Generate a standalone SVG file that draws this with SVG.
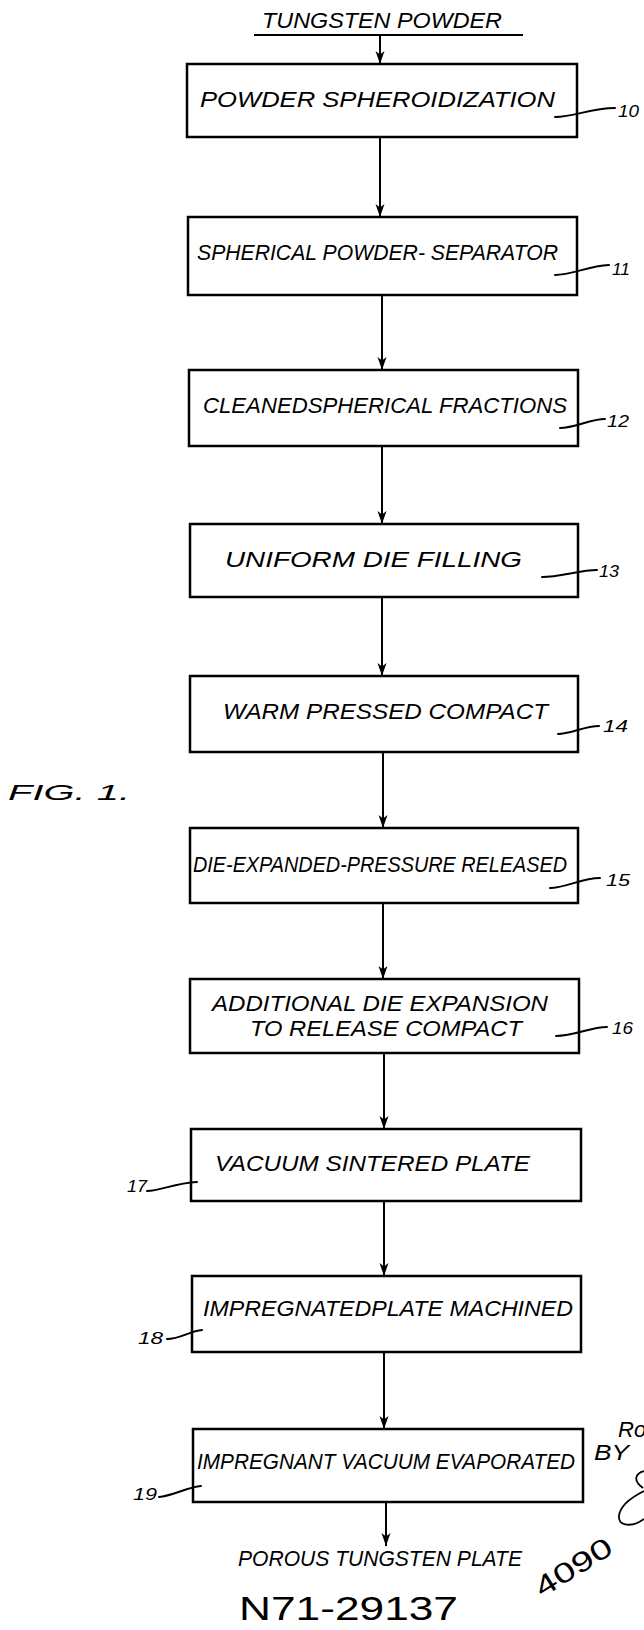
<svg xmlns="http://www.w3.org/2000/svg" width="644" height="1630" viewBox="0 0 644 1630">
<style>
.box{fill:#fff;stroke:#000;stroke-width:2.5}
.lbl{font-family:"Liberation Sans",Arial,sans-serif;font-style:italic;font-size:22px;fill:#000}
.ref{font-family:"Liberation Sans",Arial,sans-serif;font-style:italic;font-size:16px;fill:#000}
.hand{font-family:"Liberation Sans",Arial,sans-serif;fill:#000}
.lead{fill:none;stroke:#000;stroke-width:2;stroke-linecap:round}
.conn{fill:none;stroke:#000;stroke-width:2;marker-end:url(#ah)}
</style>
<defs>
<marker id="ah" markerUnits="userSpaceOnUse" viewBox="0 -5 14 10" refX="13" refY="0" markerWidth="14" markerHeight="10" orient="auto">
<path d="M0,-4.5 L13,0 L0,4.5 L3.5,0 Z" fill="#000"/>
</marker>
</defs>
<rect x="0" y="0" width="644" height="1630" fill="#fff"/>

<g id="input">
<text class="lbl" x="262" y="28" font-size="21" textLength="240" lengthAdjust="spacingAndGlyphs">TUNGSTEN POWDER</text>
<line x1="254" y1="35" x2="523" y2="35" stroke="#000" stroke-width="2"/>
</g>

<g id="connectors">
<line class="conn" x1="380" y1="35" x2="380" y2="64"/>
<line class="conn" x1="380" y1="137" x2="380" y2="217"/>
<line class="conn" x1="382" y1="295" x2="382" y2="370"/>
<line class="conn" x1="382" y1="446" x2="382" y2="524"/>
<line class="conn" x1="382" y1="597" x2="382" y2="676"/>
<line class="conn" x1="383" y1="752" x2="383" y2="828"/>
<line class="conn" x1="383" y1="903" x2="383" y2="979"/>
<line class="conn" x1="384" y1="1053" x2="384" y2="1129"/>
<line class="conn" x1="384" y1="1201" x2="384" y2="1276"/>
<line class="conn" x1="384" y1="1352" x2="384" y2="1429"/>
<line class="conn" x1="386" y1="1502" x2="386" y2="1546"/>
</g>

<g id="node10">
<rect class="box" x="187" y="64" width="390" height="73"/>
<text class="lbl" x="200" y="107" textLength="355" lengthAdjust="spacingAndGlyphs">POWDER SPHEROIDIZATION</text>
<path class="lead" d="M555,117 C575,117 590,108 615,108"/>
<text class="ref" x="618" y="117" textLength="21" lengthAdjust="spacingAndGlyphs">10</text>
</g>

<g id="node11">
<rect class="box" x="188" y="217" width="389" height="78"/>
<text class="lbl" x="197" y="260" textLength="361" lengthAdjust="spacingAndGlyphs">SPHERICAL POWDER- SEPARATOR</text>
<path class="lead" d="M555,275 C572,275 588,266 609,265"/>
<text class="ref" x="612" y="275" textLength="18" lengthAdjust="spacingAndGlyphs">11</text>
</g>

<g id="node12">
<rect class="box" x="189" y="370" width="389" height="76"/>
<text class="lbl" x="203" y="413" textLength="364" lengthAdjust="spacingAndGlyphs">CLEANEDSPHERICAL FRACTIONS</text>
<path class="lead" d="M560,428 C575,428 590,419 605,419"/>
<text class="ref" x="607" y="427" textLength="22" lengthAdjust="spacingAndGlyphs">12</text>
</g>

<g id="node13">
<rect class="box" x="190" y="524" width="388" height="73"/>
<text class="lbl" x="225" y="567" textLength="297" lengthAdjust="spacingAndGlyphs">UNIFORM DIE FILLING</text>
<path class="lead" d="M542,577 C560,577 580,570 597,570"/>
<text class="ref" x="599" y="577" textLength="20" lengthAdjust="spacingAndGlyphs">13</text>
</g>

<g id="node14">
<rect class="box" x="190" y="676" width="388" height="76"/>
<text class="lbl" x="223" y="719" font-size="23" textLength="325" lengthAdjust="spacingAndGlyphs">WARM PRESSED COMPACT</text>
<path class="lead" d="M558,734 C570,734 585,726 599,726"/>
<text class="ref" x="603" y="732" textLength="25" lengthAdjust="spacingAndGlyphs">14</text>
</g>

<g id="node15">
<rect class="box" x="190" y="828" width="388" height="75"/>
<text class="lbl" x="193" y="872" font-size="21" textLength="374" lengthAdjust="spacingAndGlyphs">DIE-EXPANDED-PRESSURE RELEASED</text>
<path class="lead" d="M550,888 C565,888 582,878 600,878"/>
<text class="ref" x="606" y="886" textLength="24" lengthAdjust="spacingAndGlyphs">15</text>
</g>

<g id="node16">
<rect class="box" x="190" y="979" width="389" height="74"/>
<text class="lbl" x="212" y="1011" textLength="336" lengthAdjust="spacingAndGlyphs">ADDITIONAL DIE EXPANSION</text>
<text class="lbl" x="250" y="1036" font-size="20" textLength="272" lengthAdjust="spacingAndGlyphs">TO RELEASE COMPACT</text>
<path class="lead" d="M556,1036 C575,1036 590,1027 607,1027"/>
<text class="ref" x="612" y="1034" textLength="21" lengthAdjust="spacingAndGlyphs">16</text>
</g>

<g id="node17">
<rect class="box" x="191" y="1129" width="390" height="72"/>
<text class="lbl" x="215" y="1171" textLength="315" lengthAdjust="spacingAndGlyphs">VACUUM SINTERED PLATE</text>
<path class="lead" d="M147,1191 C160,1191 175,1183 197,1182"/>
<text class="ref" x="127" y="1192" textLength="20" lengthAdjust="spacingAndGlyphs">17</text>
</g>

<g id="node18">
<rect class="box" x="192" y="1276" width="389" height="76"/>
<text class="lbl" x="203" y="1316" textLength="370" lengthAdjust="spacingAndGlyphs">IMPREGNATEDPLATE MACHINED</text>
<path class="lead" d="M167,1339 C180,1339 190,1331 202,1330"/>
<text class="ref" x="138" y="1344" textLength="25" lengthAdjust="spacingAndGlyphs">18</text>
</g>

<g id="node19">
<rect class="box" x="193" y="1429" width="390" height="73"/>
<text class="lbl" x="197" y="1469" textLength="378" lengthAdjust="spacingAndGlyphs">IMPREGNANT VACUUM EVAPORATED</text>
<path class="lead" d="M159,1497 C172,1496 188,1487 201,1486"/>
<text class="ref" x="133" y="1500" textLength="24" lengthAdjust="spacingAndGlyphs">19</text>
</g>

<g id="output">
<text class="lbl" x="238" y="1566" font-size="18" textLength="284" lengthAdjust="spacingAndGlyphs">POROUS TUNGSTEN PLATE</text>
</g>

<g id="annotations">
<text class="lbl" x="8" y="800" font-size="20" textLength="122" lengthAdjust="spacingAndGlyphs">FIG. 1.</text>
<text class="hand" x="239" y="1620" font-size="34" textLength="219" lengthAdjust="spacingAndGlyphs">N71-29137</text>
<text class="hand" x="0" y="0" font-size="28" textLength="86" lengthAdjust="spacingAndGlyphs" transform="translate(542,1598) rotate(-32)">4090</text>
<text class="lbl" x="594" y="1460" font-size="17" textLength="35" lengthAdjust="spacingAndGlyphs">BY</text>
<text class="lbl" x="618" y="1437" font-size="28">Ro</text>
<path d="M644,1471 C636,1473 632,1480 643,1488 M644,1491 C632,1497 620,1505 619,1516 C618,1526 632,1528 644,1519" fill="none" stroke="#000" stroke-width="1.8"/>
</g>
</svg>
